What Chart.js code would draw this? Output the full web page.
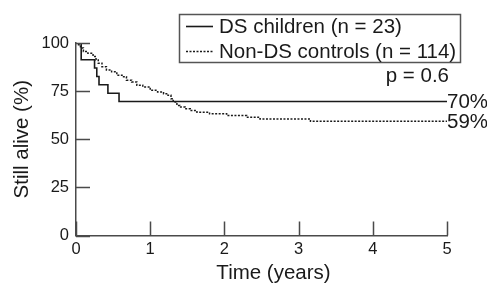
<!DOCTYPE html>
<html>
<head>
<meta charset="utf-8">
<script src="https://cdn.jsdelivr.net/npm/chart.js@4"></script>
<style>
  html, body { margin: 0; padding: 0; background: #fff; }
  #wrap { width: 487px; height: 286px; }
</style>
</head>
<body>
<div id="wrap"><canvas id="km"></canvas></div>
<script>
// Kaplan-Meier survival (time in years, % still alive)
const dsTimes = [0, 0.07, 0.25, 0.28, 0.31, 0.43, 0.58, 5];
const dsSurv = [100, 91.3, 87.0, 82.6, 78.3, 73.9, 69.6, 69.6];

const ctrlTimes = [0, 0.02, 0.06, 0.10, 0.16, 0.23, 0.27, 0.30, 0.35, 0.41, 0.48, 0.55, 0.62, 0.68, 0.75, 0.82, 0.90, 1.00, 1.10, 1.18, 1.24, 1.28, 1.31, 1.36, 1.40, 1.47, 1.54, 1.63, 1.80, 2.03, 2.30, 2.48, 3.16, 5];
const ctrlSurv = [100, 99.1, 97.4, 95.6, 94.7, 93.0, 91.2, 89.5, 87.7, 86.0, 85.1, 83.3, 82.5, 80.7, 79.8, 78.1, 77.2, 75.4, 74.6, 73.7, 72.8, 71.1, 69.3, 67.5, 66.7, 65.8, 64.9, 64.0, 63.2, 62.3, 61.4, 60.5, 59.3, 59.3];

const seriesLabels = ["DS children (n = 23)", "Non-DS controls (n = 114)"];
const endLabels = ["70%", "59%"];
const pText = "p = 0.6";
const xTitle = "Time (years)";
const xTicks = [0, 1, 2, 3, 4, 5];
const yTicks = [0, 25, 50, 75, 100];

const FONT = "'Liberation Sans', Arial, Helvetica, sans-serif";
const INK = "#1a1a1a";
const AXIS = "#4a4a4a";

const toPts = (xs, ys) => xs.map((x, i) => ({ x, y: ys[i] }));

// inward tick marks, legend box and text annotations
const extras = {
  id: "extras",
  afterDraw(chart) {
    const { ctx, chartArea, scales: { x, y } } = chart;
    ctx.save();
    ctx.strokeStyle = AXIS;
    ctx.lineWidth = 1.5;
    ctx.beginPath();
    yTicks.forEach(v => {
      const py = Math.round(y.getPixelForValue(v)) + 0.5;
      ctx.moveTo(chartArea.left, py);
      ctx.lineTo(chartArea.left + 14, py);
    });
    xTicks.forEach(v => {
      const px = Math.round(x.getPixelForValue(v)) + 0.5;
      ctx.moveTo(px, chartArea.bottom);
      ctx.lineTo(px, chartArea.bottom - 14);
    });
    ctx.stroke();

    // legend
    ctx.lineWidth = 1.5;
    ctx.strokeStyle = "#555";
    ctx.strokeRect(179.5, 14.5, 281, 48);
    ctx.font = "20.5px " + FONT;
    ctx.fillStyle = INK;
    ctx.textBaseline = "middle";
    ctx.textAlign = "left";
    chart.data.datasets.forEach((ds, i) => {
      const ly = 26.5 + i * 25;
      ctx.strokeStyle = ds.borderColor;
      ctx.lineWidth = ds.borderWidth;
      ctx.setLineDash(ds.borderDash || []);
      ctx.beginPath();
      ctx.moveTo(186, ly);
      ctx.lineTo(213, ly);
      ctx.stroke();
      ctx.setLineDash([]);
      ctx.fillText(ds.label, 219, ly + 1);
    });

    // p value and end-of-curve labels
    const xEnd = x.getPixelForValue(5);
    ctx.textAlign = "right";
    ctx.fillText(pText, xEnd + 2, chartArea.top + 33);
    ctx.textAlign = "left";
    ctx.fillText(endLabels[0], xEnd, y.getPixelForValue(dsSurv[dsSurv.length - 1]) + 1);
    ctx.fillText(endLabels[1], xEnd, y.getPixelForValue(ctrlSurv[ctrlSurv.length - 1]) + 1);

    // x axis title, sits a little right of centre in the original
    ctx.textAlign = "center";
    ctx.fillText(xTitle, (chartArea.left + chartArea.right) / 2 + 12, 273);
    ctx.restore();
  }
};

new Chart(document.getElementById("km"), {
  type: "line",
  data: {
    datasets: [
      {
        label: seriesLabels[0],
        data: toPts(dsTimes, dsSurv),
        stepped: true,
        borderColor: INK,
        borderWidth: 1.6,
        pointRadius: 0,
        fill: false
      },
      {
        label: seriesLabels[1],
        data: toPts(ctrlTimes, ctrlSurv),
        stepped: true,
        borderColor: INK,
        borderWidth: 1.5,
        borderDash: [2, 1.5],
        pointRadius: 0,
        fill: false
      }
    ]
  },
  options: {
    responsive: true,
    maintainAspectRatio: false,
    animation: false,
    layout: { padding: { top: 43, right: 40, left: 0, bottom: 0 } },
    plugins: { legend: { display: false }, tooltip: { enabled: false } },
    scales: {
      x: {
        type: "linear",
        min: 0,
        max: 5,
        afterBuildTicks: s => { s.ticks = xTicks.map(v => ({ value: v })); },
        afterFit: s => { s.height = 50.5; },
        grid: { drawOnChartArea: false, drawTicks: false },
        border: { color: AXIS, width: 1.5 },
        ticks: { color: INK, padding: 4, font: { family: FONT, size: 16.5 } },
        title: { display: false }
      },
      y: {
        min: 0,
        max: 100,
        afterBuildTicks: s => { s.ticks = yTicks.map(v => ({ value: v })); },
        afterFit: s => { s.width = 76; },
        grid: { drawOnChartArea: false, drawTicks: false },
        border: { color: AXIS, width: 1.5 },
        ticks: { color: INK, padding: 7, font: { family: FONT, size: 16.5 } },
        title: { display: true, text: "Still alive (%)", color: INK, padding: { top: 10 }, font: { family: FONT, size: 20.5 } }
      }
    }
  },
  plugins: [extras]
});
</script>
</body>
</html>
